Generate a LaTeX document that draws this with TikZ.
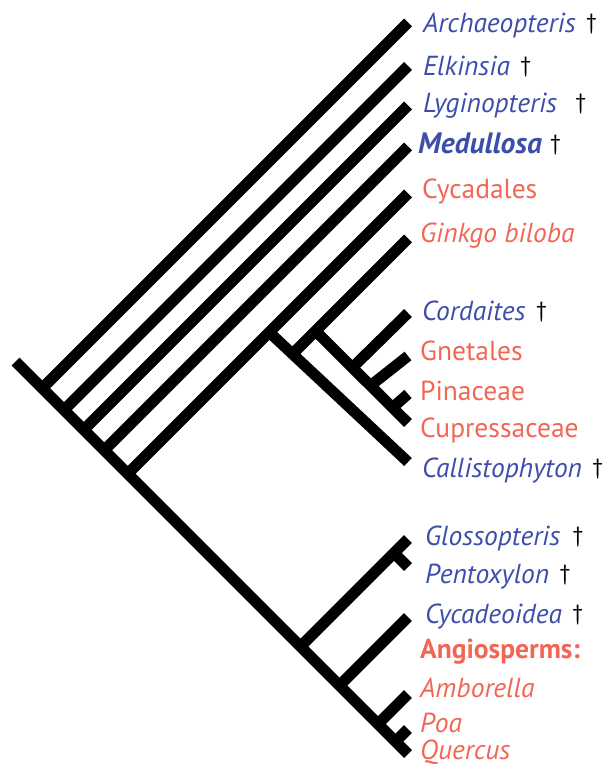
\documentclass[tikz,border=0pt]{standalone}
\usepackage{fontspec}
\setmainfont{PT Sans}
\definecolor{fossilblue}{RGB}{60,78,170}
\definecolor{livingred}{RGB}{242,102,84}
\newcommand{\labsize}{\fontsize{27.5}{32}\selectfont}
\begin{document}
\begin{tikzpicture}[x=1pt,y=-1pt,
  branch/.style={line width=11pt,line cap=butt,black},
  lab/.style={anchor=base west,inner sep=0pt,font=\labsize},
  fossil/.style={lab,text=fossilblue,font=\labsize\itshape},
  living/.style={lab,text=livingred},
  livingit/.style={lab,text=livingred,font=\labsize\itshape},
  dag/.style={anchor=base west,inner sep=0pt,text=black,font=\fontsize{22}{26}\selectfont}]
\useasboundingbox (0,0) rectangle (602,768);

% ---- spine and its junctions
\coordinate (root) at (15.5,361.5);
\coordinate (tQue) at (408,754);
\coordinate (jArc) at (42.25,388.25);
\coordinate (jElk) at (64,410);
\coordinate (jLyg) at (83.75,429.75);
\coordinate (jMed) at (104.25,450.25);
\coordinate (jCyc) at (127.75,473.75);
\coordinate (jGlo) at (300.5,646.5);
\coordinate (jCyd) at (339.5,685.5);
\coordinate (jAmb) at (378,724);
\coordinate (jPoa) at (395.5,741.5);

% ---- tips
\coordinate (tArc) at (408,22.5);
\coordinate (tElk) at (408,66);
\coordinate (tLyg) at (408,105.5);
\coordinate (tMed) at (408,146.5);
\coordinate (tCyc) at (408,193.5);
\coordinate (tGin) at (408,238.5);
\coordinate (tCor) at (408,313);
\coordinate (tGne) at (408,356);
\coordinate (tPin) at (408,394);
\coordinate (tCup) at (408,423);
\coordinate (tCal) at (408,462);
\coordinate (tGlo) at (408,539);
\coordinate (tPen) at (408,567);
\coordinate (tCyd) at (408,617);
\coordinate (tAmb) at (408,694);
\coordinate (tPoa) at (408,729);

% ---- inner junctions of the conifer clade
\coordinate (jCal) at (269,332);   % on the Cycadales line
\coordinate (jGin) at (295.5,351); % on the Callistophyton line
\coordinate (jCup) at (315.5,331); % on the Ginkgo line
\coordinate (jCor) at (352,368);
\coordinate (jGne) at (370,386);
\coordinate (jPin) at (392,408);
\coordinate (jPen) at (394,553);   % on the Glossopteris line

% ---- branches
\draw[branch] (root) -- (tQue);
\draw[branch] (jArc) -- (tArc);
\draw[branch] (jElk) -- (tElk);
\draw[branch] (jLyg) -- (tLyg);
\draw[branch] (jMed) -- (tMed);
\draw[branch] (jCyc) -- (tCyc);
\draw[branch] (jCal) -- (tCal);
\draw[branch] (jGin) -- (tGin);
\draw[branch] (jCup) -- (tCup);
\draw[branch] (jCor) -- (tCor);
\draw[branch] (jGne) -- (tGne);
\draw[branch] (jPin) -- (tPin);
\draw[branch] (jGlo) -- (tGlo);
\draw[branch] (jPen) -- (tPen);
\draw[branch] (jCyd) -- (tCyd);
\draw[branch] (jAmb) -- (tAmb);
\draw[branch] (jPoa) -- (tPoa);

% ---- taxon labels
\node[fossil] (lArc) at (423,33) {Archaeopteris};
\node[fossil] (lElk) at (423,75) {Elkinsia};
\node[fossil] (lLyg) at (423,112) {Lyginopteris};
\node[fossil,font=\fontsize{29.5}{34}\selectfont\bfseries\itshape] (lMed) at (418,153) {Medullosa};
\node[living] (lCyc) at (422,198) {Cycadales};
\node[livingit] (lGin) at (420,242) {Ginkgo biloba};
\node[fossil] (lCor) at (422,320) {Cordaites};
\node[living] (lGne) at (420,360) {Gnetales};
\node[living] (lPin) at (420,400) {Pinaceae};
\node[living] (lCup) at (420,437) {Cupressaceae};
\node[fossil] (lCal) at (422,477) {Callistophyton};
\node[fossil] (lGlo) at (425,545) {Glossopteris};
\node[fossil] (lPen) at (425,583) {Pentoxylon};
\node[fossil] (lCyd) at (425,623) {Cycadeoidea};
\node[living,font=\labsize\bfseries] (lAng) at (420,658) {Angiosperms:};
\node[livingit] (lAmb) at (420,697) {Amborella};
\node[livingit] (lPoa) at (420,732) {Poa};
\node[livingit] (lQue) at (420,759) {Quercus};

% ---- extinction daggers, set just after their names and a little raised
\node[dag] (dArc) at ([xshift=10pt,yshift=3pt]lArc.base east) {†};
\node[dag] (dElk) at ([xshift=10pt,yshift=3pt]lElk.base east) {†};
\node[dag] (dLyg) at ([xshift=18pt,yshift=3pt]lLyg.base east) {†};
\node[dag] (dMed) at ([xshift=8pt,yshift=3pt]lMed.base east) {†};
\node[dag] (dCor) at ([xshift=10pt,yshift=3pt]lCor.base east) {†};
\node[dag] (dCal) at ([xshift=10pt,yshift=3pt]lCal.base east) {†};
\node[dag] (dGlo) at ([xshift=12pt,yshift=3pt]lGlo.base east) {†};
\node[dag] (dPen) at ([xshift=10pt,yshift=3pt]lPen.base east) {†};
\node[dag] (dCyd) at ([xshift=10pt,yshift=3pt]lCyd.base east) {†};
\end{tikzpicture}
\end{document}
